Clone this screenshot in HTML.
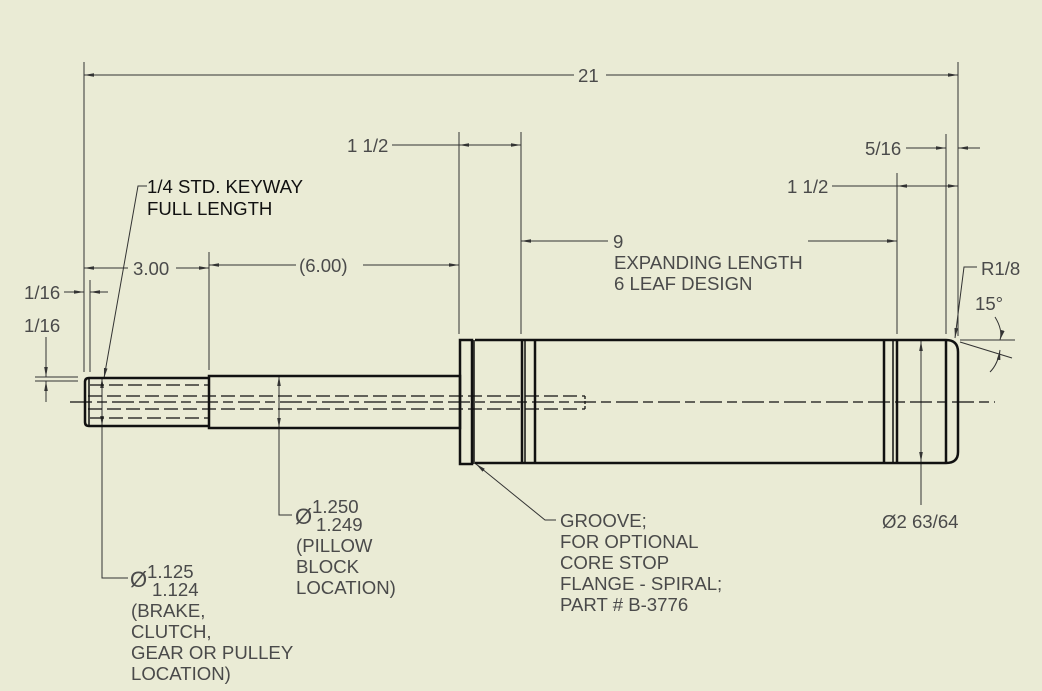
<!DOCTYPE html>
<html><head><meta charset="utf-8"><style>
html,body{margin:0;padding:0;background:#EAEBD5;}
svg{display:block}
text{font-family:"Liberation Sans",Arial,sans-serif;font-size:18.6px;fill:#4a4a4a}
.k{fill:#111}
</style></head><body>
<svg width="1042" height="691" viewBox="0 0 1042 691" xmlns="http://www.w3.org/2000/svg">
<defs>
<marker id="a" viewBox="0 0 10 6" refX="10" refY="3" markerWidth="10" markerHeight="6" markerUnits="userSpaceOnUse" orient="auto-start-reverse">
<path d="M0,1.2 L10,3 L0,4.8 Z" fill="#333"/>
</marker>
</defs>
<rect width="1042" height="691" fill="#EAEBD5"/>
<g stroke="#333" stroke-width="1" fill="none">
<line x1="84" y1="62" x2="84" y2="372"/>
<line x1="958" y1="62" x2="958" y2="336"/>
<line x1="459" y1="132" x2="459" y2="334"/>
<line x1="521" y1="132" x2="521" y2="334"/>
<line x1="946" y1="134" x2="946" y2="334"/>
<line x1="897" y1="173" x2="897" y2="334"/>
<line x1="209" y1="252" x2="209" y2="370"/>
<line x1="90" y1="280" x2="90" y2="372"/>
<line x1="84" y1="75" x2="574" y2="75" marker-start="url(#a)"/>
<line x1="606" y1="75" x2="958" y2="75" marker-end="url(#a)"/>
<line x1="392" y1="145" x2="521" y2="145" marker-end="url(#a)"/>
<line x1="459" y1="145" x2="470" y2="145" marker-start="url(#a)"/>
<line x1="906" y1="148" x2="946" y2="148" marker-end="url(#a)"/>
<line x1="980" y1="148" x2="958" y2="148" marker-end="url(#a)"/>
<line x1="832" y1="186" x2="958" y2="186" marker-end="url(#a)"/>
<line x1="897" y1="186" x2="908" y2="186" marker-start="url(#a)"/>
<line x1="521" y1="241" x2="608" y2="241" marker-start="url(#a)"/>
<line x1="808" y1="241" x2="897" y2="241" marker-end="url(#a)"/>
<line x1="84" y1="268" x2="128" y2="268" marker-start="url(#a)"/>
<line x1="176" y1="268" x2="209" y2="268" marker-end="url(#a)"/>
<line x1="209" y1="265" x2="296" y2="265" marker-start="url(#a)"/>
<line x1="363" y1="265" x2="459" y2="265" marker-end="url(#a)"/>
<line x1="64" y1="292" x2="84" y2="292" marker-end="url(#a)"/>
<line x1="108" y1="292" x2="90" y2="292" marker-end="url(#a)"/>
<line x1="35" y1="377" x2="78" y2="377"/>
<line x1="35" y1="381" x2="78" y2="381"/>
<line x1="46" y1="337" x2="46" y2="377" marker-end="url(#a)"/>
<line x1="46" y1="402" x2="46" y2="381" marker-end="url(#a)"/>
<polyline points="147,186 138,186 104,378" marker-end="url(#a)"/>
<line x1="102" y1="378" x2="102" y2="426" marker-start="url(#a)" marker-end="url(#a)"/>
<polyline points="102,426 102,578 128,578"/>
<line x1="279" y1="376" x2="279" y2="428" marker-start="url(#a)" marker-end="url(#a)"/>
<polyline points="279,428 279,515 292,515"/>
<polyline points="556,520 545,520 476,464" marker-end="url(#a)"/>
<line x1="921" y1="341" x2="921" y2="462" marker-start="url(#a)" marker-end="url(#a)"/>
<line x1="921" y1="462" x2="921" y2="505"/>
<polyline points="977,267 964,267 955,338" marker-end="url(#a)"/>
<line x1="960" y1="340" x2="1015" y2="340"/>
<line x1="960" y1="342" x2="1012" y2="358"/>
<path d="M995,317 Q1003,330 1000,340" marker-end="url(#a)"/>
<path d="M990,372 Q998,364 1000,350" marker-end="url(#a)"/>
</g>
<g stroke="#111" stroke-width="2.5" fill="none">
<path d="M209,378 L89,378 Q85,378 85,382 L85,422 Q85,426 89,426 L209,426"/>
<line x1="89" y1="378" x2="89" y2="426" stroke-width="1.5"/>
<rect x="209" y="376" width="251" height="52"/>
<rect x="460" y="340" width="12" height="124"/>
<line x1="474" y1="340" x2="474" y2="464" stroke-width="1.5"/>
<path d="M475,340 L946,340 Q958,340 958,352 L958,452 Q958,463 946,463 L475,463"/>
<line x1="522" y1="340" x2="522" y2="463"/>
<line x1="525" y1="340" x2="525" y2="463" stroke-width="1.5"/>
<line x1="535" y1="340" x2="535" y2="463"/>
<line x1="884" y1="340" x2="884" y2="463"/>
<line x1="893" y1="340" x2="893" y2="463" stroke-width="1.5"/>
<line x1="897" y1="340" x2="897" y2="463"/>
<line x1="946" y1="340" x2="946" y2="463"/>
</g>
<g stroke="#111" stroke-width="1.3" fill="none">
<line x1="90" y1="385" x2="209" y2="385" stroke-dasharray="14,5"/>
<line x1="90" y1="418" x2="209" y2="418" stroke-dasharray="14,5"/>
<line x1="88" y1="396" x2="585" y2="396" stroke-dasharray="14,5"/>
<line x1="88" y1="409" x2="585" y2="409" stroke-dasharray="14,5"/>
<line x1="585" y1="396" x2="585" y2="409" stroke-dasharray="3,2"/>
<line x1="70" y1="402" x2="995" y2="402" stroke-dasharray="22,5,10,5"/>
</g>
<text x="578" y="82">21</text>
<text x="347" y="152">1 1/2</text>
<text x="865" y="155">5/16</text>
<text x="787" y="193">1 1/2</text>
<text x="613" y="248">9</text>
<text x="614" y="269">EXPANDING LENGTH</text>
<text x="614" y="290">6 LEAF DESIGN</text>
<text x="133" y="275">3.00</text>
<text x="299" y="272">(6.00)</text>
<text x="24" y="299">1/16</text>
<text x="24" y="332">1/16</text>
<text class="k" x="147" y="193">1/4 STD. KEYWAY</text>
<text class="k" x="147" y="215">FULL LENGTH</text>
<text x="130" y="587" style="font-size:22px">Ø</text>
<text x="147" y="578">1.125</text>
<text x="152" y="596">1.124</text>
<text x="131" y="617">(BRAKE,</text>
<text x="131" y="638">CLUTCH,</text>
<text x="131" y="659">GEAR OR PULLEY</text>
<text x="131" y="680">LOCATION)</text>
<text x="295" y="524" style="font-size:22px">Ø</text>
<text x="312" y="513">1.250</text>
<text x="316" y="531">1.249</text>
<text x="296" y="552">(PILLOW</text>
<text x="296" y="573">BLOCK</text>
<text x="296" y="594">LOCATION)</text>
<text x="560" y="527">GROOVE;</text>
<text x="560" y="548">FOR OPTIONAL</text>
<text x="560" y="569">CORE STOP</text>
<text x="560" y="590">FLANGE - SPIRAL;</text>
<text x="560" y="611">PART # B-3776</text>
<text x="882" y="528">Ø2 63/64</text>
<text x="981" y="275">R1/8</text>
<text x="975" y="310">15°</text>
</svg>
</body></html>
